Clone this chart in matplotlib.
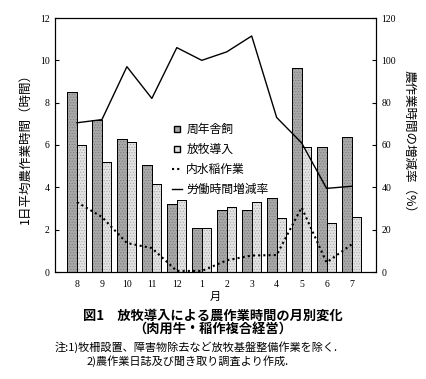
import matplotlib
matplotlib.use("Agg")
import matplotlib.pyplot as plt
import numpy as np

months = ["8", "9", "10", "11", "12", "1", "2", "3", "4", "5", "6", "7"]
shushi = [8.5, 7.2, 6.3, 5.05, 3.2, 2.1, 2.95, 2.95, 3.5, 9.65, 5.9, 6.4]
houboku = [6.0, 5.2, 6.15, 4.15, 3.4, 2.1, 3.05, 3.3, 2.55, 5.9, 2.3, 2.6]
suito = [3.3, 2.6, 1.37, 1.13, 0.05, 0.05, 0.55, 0.78, 0.8, 3.05, 0.45, 1.3]
rate = [70.5, 72, 97, 82, 106, 100, 104, 111.5, 73, 61, 39.5, 40.5]

plt.rcParams['font.family'] = ['Noto Sans CJK JP', 'DejaVu Sans']
plt.rcParams['hatch.linewidth'] = 0.4
serif = ['Liberation Serif', 'DejaVu Serif']

fig = plt.figure(figsize=(4.26, 3.79), dpi=100)
ax = fig.add_axes([55/426, 1-272/379, (376-55)/426, (272-18)/379])
ax2 = ax.twinx()

x = np.arange(len(months))
w = 0.38
dark = '#a8a8a8'
light = '#e2e2e2'
b1 = ax.bar(x - w/2, shushi, w, color=dark, edgecolor='black', linewidth=0.7, zorder=2)
b2 = ax.bar(x + w/2, houboku, w, color=light, edgecolor='black', linewidth=0.7, zorder=2)
# stipple texture
ax.bar(x - w/2, shushi, w, color='none', edgecolor='#777777', linewidth=0, hatch='......', zorder=2.1)
ax.bar(x + w/2, houboku, w, color='none', edgecolor='#a0a0a0', linewidth=0, hatch='......', zorder=2.1)
ax.bar(x - w/2, shushi, w, color='none', edgecolor='black', linewidth=0.7, zorder=2.2)
ax.bar(x + w/2, houboku, w, color='none', edgecolor='black', linewidth=0.7, zorder=2.2)
ax.plot(x, suito, color='black', linestyle=(0, (1, 1.5)), linewidth=1.5, zorder=3)
ax2.plot(x, rate, color='black', linewidth=1.0, zorder=3)

ax.set_xlim(-0.88, 11.98)
ax.set_ylim(0, 12)
ax2.set_ylim(0, 120)
ax.set_yticks(range(0, 13, 2))
ax2.set_yticks(range(0, 121, 20))
ax.set_xticks(x)
ax.set_xticklabels(months)
for a in (ax, ax2):
    a.tick_params(direction='in', length=3, width=0.8, labelsize=7, pad=4)
    for lab in a.get_xticklabels() + a.get_yticklabels():
        lab.set_family(serif)
ax.tick_params(axis='x', length=0, pad=6)
ax2.tick_params(axis='y', pad=4)

ax.set_ylabel('1日平均農作業時間（時間）', fontsize=9, labelpad=6)
ax2.set_ylabel('農作業時間の増減率（%）', fontsize=9, rotation=270, labelpad=14)
ax.set_xlabel('月', fontsize=8, labelpad=2)

from matplotlib.lines import Line2D
handles = [
    Line2D([0], [0], marker='s', color='none', markerfacecolor=dark, markeredgecolor='black', markersize=5),
    Line2D([0], [0], marker='s', color='none', markerfacecolor=light, markeredgecolor='black', markersize=5),
    Line2D([0], [0], color='black', linestyle=(0, (1, 1.5)), linewidth=1.5),
    Line2D([0], [0], color='black', linewidth=1.0),
]
labels = ['周年舎飼', '放牧導入', '内水稲作業', '労働時間増減率']
ax.legend(handles, labels, loc='upper left', bbox_to_anchor=(0.35, 0.605), frameon=False,
          fontsize=8.5, handlelength=0.8, handletextpad=0.4, labelspacing=0.6, borderaxespad=0)

fig.text(0.5, 1-316/379, '図1　放牧導入による農作業時間の月別変化', ha='center', va='center', fontsize=9.5, fontweight='bold')
fig.text(0.5, 1-329/379, '（肉用牛・稲作複合経営）', ha='center', va='center', fontsize=9.5, fontweight='bold')
fig.text(55/426, 1-347/379, '注:1)牧柵設置、障害物除去など放牧基盤整備作業を除く.', ha='left', va='center', fontsize=8)
fig.text(87/426, 1-361/379, '2)農作業日誌及び聞き取り調査より作成.', ha='left', va='center', fontsize=8)

fig.savefig('out.png', dpi=100)
